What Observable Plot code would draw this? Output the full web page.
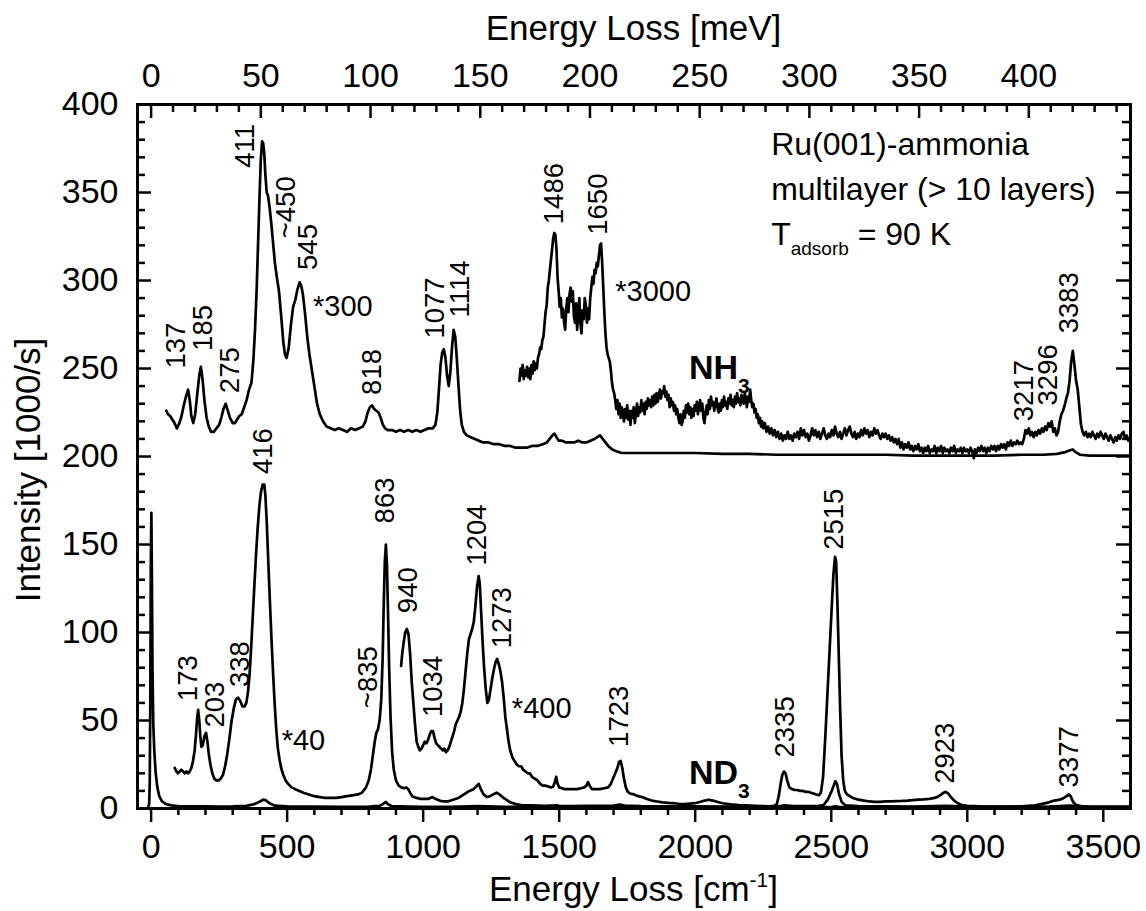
<!DOCTYPE html>
<html><head><meta charset="utf-8">
<script src="https://cdn.jsdelivr.net/npm/d3@7"></script>
<script src="https://cdn.jsdelivr.net/npm/@observablehq/plot@0.6"></script>
<style>body{margin:0;background:#fff} svg{display:block}</style>
</head><body><div id="chart"></div>
<script>
// ---------------- DATA (cm^-1, intensity in 1000/s) ----------------
const nh3x300 = [[56,226],[62,224],[70,223],[78,221],[86,219],[95,216],[104,219],[112,223],[120,229],[128,234],[136,238],[142,232],[148,223],[155,219],[162,224],[170,236],[177,246],[183,251],[189,244],[196,232],[204,222],[212,217],[220,214],[230,214],[240,216],[250,218],[258,222],[266,227],[274,230],[282,226],[290,222],[300,219],[308,219],[316,221],[324,223],[333,224],[342,228],[351,232],[360,238],[369,242],[376,255],[382,272],[388,295],[393,320],[398,345],[403,368],[408,379],[412,378],[416,372],[420,360],[425,350],[430,348],[436,341],[442,332],[448,322],[455,310],[462,302],[470,294],[478,280],[486,265],[492,258],[498,256],[506,262],[514,275],[522,285],[530,289],[538,295],[546,299],[552,297],[558,292],[566,281],[574,268],[582,258],[590,250],[600,240],[610,230],[620,224],[632,220],[645,217],[660,216],[675,215],[690,216],[705,215],[720,214],[735,216],[750,215],[765,216],[778,217],[788,220],[796,225],[804,228],[812,229],[820,227],[828,226],[836,225],[844,222],[852,218],[860,216],[870,215],[885,215],[900,214],[915,215],[930,214],[945,215],[960,214],[975,215],[990,214],[1005,215],[1020,216],[1035,216],[1045,218],[1052,225],[1058,238],[1064,252],[1070,259],[1076,261],[1082,256],[1088,246],[1094,240],[1100,248],[1106,262],[1112,272],[1118,268],[1124,255],[1130,240],[1136,226],[1142,218],[1150,214],[1160,212],[1175,211],[1190,210],[1205,209],[1220,208],[1240,208],[1260,207],[1280,207],[1300,206],[1320,206],[1340,205],[1360,205],[1380,205],[1400,206],[1420,206],[1440,207],[1455,208],[1465,210],[1475,212],[1483,213],[1490,211],[1498,209],[1510,209],[1525,208],[1540,208],[1555,208],[1570,209],[1585,208],[1600,208],[1615,209],[1630,210],[1640,211],[1650,212],[1660,210],[1670,208],[1680,206],[1695,204],[1710,203],[1730,202],[1760,202],[1800,202],[1850,202],[1900,202],[1950,202],[2000,202],[2100,201.5],[2200,201.5],[2300,201],[2400,201],[2500,201],[2600,201],[2700,201],[2800,200.5],[2900,200.5],[3000,200.5],[3100,200.5],[3200,201],[3280,201],[3330,201.5],[3360,202.5],[3378,203.5],[3388,204],[3398,202.5],[3415,201],[3450,200.5],[3500,200.5],[3600,200.5]];

const nh3x3000 = [[1354,243],[1358,250],[1362,246],[1366,252],[1370,244],[1374,249],[1378,246],[1382,251],[1386,245],[1390,250],[1394,244],[1398,252],[1402,247],[1406,254],[1410,249],[1414,253],[1418,250],[1422,256],[1426,258],[1430,262],[1434,261],[1438,266],[1442,268],[1446,275],[1450,282],[1454,286],[1458,296],[1462,300],[1466,306],[1470,312],[1474,318],[1478,324],[1482,327],[1486,326],[1490,318],[1494,302],[1498,294],[1502,285],[1506,290],[1510,279],[1514,284],[1518,276],[1522,272],[1526,284],[1530,290],[1534,282],[1538,292],[1542,296],[1546,288],[1550,294],[1554,280],[1558,276],[1562,287],[1566,272],[1570,281],[1574,290],[1578,276],[1582,270],[1586,283],[1590,278],[1594,290],[1598,286],[1602,276],[1606,284],[1610,278],[1614,290],[1618,296],[1622,302],[1626,298],[1630,306],[1634,304],[1638,310],[1642,308],[1646,314],[1650,320],[1654,321],[1658,310],[1662,296],[1666,282],[1670,270],[1674,262],[1678,258],[1682,256],[1686,254],[1690,249],[1694,242],[1698,238],[1702,236],[1706,232],[1710,227],[1714,232],[1718,224],[1722,230],[1726,222],[1730,228],[1734,225],[1738,220],[1742,227],[1746,222],[1750,229],[1754,221],[1758,226],[1762,218],[1766,226],[1770,222],[1774,228],[1778,219],[1782,224],[1786,230],[1790,223],[1794,228],[1798,225],[1802,232],[1806,226],[1810,230],[1814,224],[1818,231],[1822,227],[1826,233],[1830,229],[1834,232],[1838,228],[1842,234],[1846,229],[1850,235],[1854,230],[1858,236],[1862,231],[1866,234],[1870,238],[1874,233],[1878,237],[1882,236],[1886,240],[1890,234],[1894,237],[1898,232],[1902,235],[1906,228],[1910,233],[1914,229],[1918,231],[1922,226],[1926,229],[1930,224],[1934,227],[1938,222],[1942,219],[1946,224],[1950,218],[1954,220],[1958,226],[1962,222],[1966,229],[1970,225],[1974,230],[1978,224],[1982,228],[1986,222],[1990,227],[1994,223],[1998,229],[2002,226],[2006,231],[2010,224],[2014,228],[2018,232],[2022,226],[2026,230],[2030,222],[2034,219],[2038,225],[2042,229],[2046,224],[2050,232],[2054,227],[2058,234],[2062,229],[2066,231],[2070,226],[2074,230],[2078,233],[2082,228],[2086,225],[2090,230],[2094,226],[2098,232],[2102,228],[2106,234],[2110,229],[2114,231],[2118,227],[2122,233],[2126,230],[2130,235],[2134,229],[2138,232],[2142,228],[2146,234],[2150,230],[2154,236],[2158,231],[2162,233],[2166,229],[2170,235],[2174,232],[2178,230],[2182,236],[2186,233],[2190,228],[2194,234],[2198,231],[2202,238],[2206,232],[2210,228],[2214,230],[2218,225],[2222,227],[2226,222],[2230,224],[2234,219],[2238,222],[2242,217],[2246,220],[2250,216],[2256,219],[2262,214],[2268,217],[2274,213],[2280,216],[2286,212],[2292,215],[2298,211],[2304,214],[2310,210],[2316,213],[2322,209],[2328,212],[2334,210],[2340,214],[2346,210],[2352,212],[2358,209],[2364,213],[2370,211],[2376,214],[2382,210],[2388,216],[2394,212],[2400,215],[2406,211],[2412,213],[2418,209],[2424,212],[2430,216],[2436,212],[2442,215],[2448,211],[2454,214],[2460,210],[2466,213],[2472,216],[2478,212],[2484,210],[2490,213],[2496,211],[2502,215],[2508,212],[2514,217],[2520,213],[2526,211],[2532,214],[2538,210],[2544,213],[2550,216],[2556,212],[2562,215],[2568,217],[2574,213],[2580,211],[2586,214],[2592,210],[2598,213],[2604,211],[2610,215],[2616,212],[2622,216],[2628,213],[2634,215],[2640,211],[2646,214],[2652,212],[2658,216],[2664,213],[2670,215],[2676,212],[2682,210],[2688,213],[2694,211],[2700,213],[2706,210],[2712,212],[2718,209],[2724,211],[2730,208],[2736,210],[2742,207],[2748,210],[2754,205],[2760,208],[2766,204],[2772,207],[2778,205],[2784,208],[2790,204],[2796,206],[2802,203],[2808,206],[2814,204],[2820,207],[2826,203],[2832,205],[2838,202],[2844,205],[2850,203],[2856,206],[2862,202],[2868,204],[2874,203],[2880,206],[2886,202],[2892,205],[2898,203],[2904,206],[2910,202],[2916,205],[2922,203],[2928,204],[2934,202],[2940,205],[2946,203],[2952,206],[2958,202],[2964,204],[2970,203],[2976,205],[2982,202],[2988,205],[2994,203],[3000,204],[3006,202],[3012,205],[3018,203],[3024,199],[3028,204],[3034,202],[3040,205],[3046,203],[3052,206],[3058,203],[3064,205],[3070,202],[3076,205],[3082,203],[3088,206],[3094,204],[3100,206],[3106,203],[3112,206],[3118,204],[3124,207],[3130,205],[3136,207],[3142,204],[3148,208],[3154,206],[3160,209],[3166,206],[3172,208],[3178,207],[3184,209],[3190,207],[3196,208],[3202,207],[3208,210],[3214,215],[3220,213],[3226,216],[3232,212],[3238,214],[3244,211],[3250,214],[3256,212],[3262,215],[3268,213],[3274,216],[3280,214],[3286,217],[3292,215],[3298,219],[3304,217],[3310,220],[3316,214],[3322,216],[3328,212],[3334,214],[3340,220],[3346,224],[3352,226],[3358,229],[3364,233],[3370,236],[3376,243],[3382,254],[3388,260],[3394,252],[3400,243],[3406,238],[3412,228],[3418,218],[3424,214],[3430,212],[3436,214],[3442,211],[3448,213],[3454,211],[3460,214],[3466,212],[3472,210],[3478,213],[3484,211],[3490,214],[3496,212],[3502,210],[3508,213],[3514,211],[3520,209],[3526,212],[3532,210],[3538,208],[3544,211],[3550,209],[3556,212],[3562,210],[3568,213],[3574,214],[3580,210],[3586,212],[3592,209],[3600,211]];

const nd3x1 = [[-14,0],[-10,0.5],[-7,3],[-5,15],[-3,60],[-1,140],[1,168],[3,130],[5,80],[8,48],[12,32],[17,20],[23,12],[30,7],[40,4],[55,2.5],[75,1.8],[100,1.4],[150,1.2],[200,1.2],[250,1.1],[300,1.2],[350,1.5],[380,2.5],[400,4],[412,5],[420,4.8],[435,3],[455,1.6],[500,1.2],[600,1.1],[700,1],[800,1.1],[840,1.5],[855,2.8],[863,3.8],[870,2.5],[885,1.3],[950,1.1],[1000,1],[1100,1],[1204,1.3],[1300,1],[1500,0.9],[2000,0.8],[2500,0.8],[2515,1.2],[2530,0.8],[3000,0.8],[3600,0.8]];

const nd3x40 = [[87,23],[93,21],[99,20],[105,21],[111,22],[118,21],[124,20],[130,21],[136,20],[142,21],[148,23],[154,27],[160,33],[165,42],[169,51],[173,56],[177,50],[181,41],[185,35],[190,36],[196,41],[202,43],[207,38],[212,31],[218,25],[225,20],[232,17],[240,16],[248,16],[256,17],[264,19],[272,24],[280,31],[288,40],[296,50],[304,57],[312,62],[320,63],[328,61],[336,58],[344,58],[350,60],[356,66],[362,76],[368,92],[374,110],[380,128],[386,145],[392,160],[398,172],[404,180],[410,184],[416,184],[420,178],[425,163],[430,143],[436,120],[442,98],[448,78],[454,60],[460,45],[466,34],[472,28],[478,23],[486,19],[494,16],[504,14],[516,12],[530,11],[545,10],[560,9],[580,8],[600,7],[620,6.5],[640,6],[660,6],[680,6],[700,6.5],[720,7],[740,7.5],[760,8],[775,9],[790,12],[800,16],[808,22],[815,30],[822,38],[828,43],[834,45],[840,50],[846,62],[851,85],[855,115],[859,140],[863,150],[867,138],[871,110],[875,80],[880,52],[886,32],[892,22],[900,16],[910,13],[920,12],[930,11.5],[938,12],[945,11],[952,9],[960,7],[975,6],[990,5.5],[1005,5.5],[1020,5.5],[1034,6.5],[1045,5.5],[1060,4.5],[1075,4],[1090,4],[1110,5],[1130,6],[1150,8],[1170,10],[1185,11],[1195,12.5],[1204,14],[1212,11],[1222,8],[1234,6.5],[1246,7],[1258,8],[1270,9],[1280,8],[1292,6.5],[1305,5],[1320,3.5],[1340,2.5],[1360,2],[1400,1.8],[1450,1.5],[1490,1.8],[1500,1.5],[1550,1.4],[1600,1.5],[1650,1.5],[1700,1.6],[1723,2.2],[1740,1.6],[1800,1.3],[1900,1.2],[2000,1.2],[2100,1.1],[2200,1.1],[2300,1.1],[2330,1.8],[2360,1.4],[2450,1.4],[2472,2],[2487,5],[2499,9],[2509,13],[2515,15.5],[2521,14],[2529,8],[2539,3.5],[2552,1.8],[2600,1.3],[2700,1.2],[2800,1.1],[2922,1.5],[3000,1.1],[3100,1.0],[3200,1.0],[3300,1.1],[3378,1.6],[3450,1.0],[3600,1.0]];

const nd3x400 = [[919,81],[923,88],[928,94],[934,100],[940,102],[946,99],[952,88],[958,72],[964,60],[970,48],[976,38],[982,35],[988,33],[994,34],[1000,36],[1006,38],[1012,37],[1018,39],[1024,42],[1030,44],[1036,44],[1042,40],[1048,37],[1054,36],[1060,35],[1066,34],[1072,33],[1078,34],[1084,32],[1090,33],[1096,35],[1102,38],[1108,41],[1114,44],[1120,48],[1126,50],[1132,52],[1138,55],[1144,60],[1150,68],[1156,78],[1162,88],[1168,96],[1174,99],[1180,102],[1186,106],[1192,115],[1198,126],[1204,132],[1208,128],[1213,112],[1218,96],[1224,80],[1230,68],[1236,60],[1242,62],[1248,68],[1254,74],[1260,79],[1266,83],[1272,85],[1278,82],[1284,78],[1290,72],[1296,63],[1302,52],[1308,45],[1314,38],[1320,33],[1328,29],[1336,27],[1344,25],[1352,24],[1360,24],[1368,22],[1376,21],[1384,20],[1392,20],[1400,18],[1410,17],[1420,16],[1430,14],[1440,13],[1450,13],[1460,12.5],[1470,12],[1478,12.5],[1484,15],[1489,18],[1494,14],[1500,12],[1510,11.5],[1520,11],[1535,11],[1550,11],[1565,11],[1580,11.5],[1592,12],[1600,13],[1606,15],[1612,13],[1620,11],[1635,11],[1650,11],[1665,11.5],[1680,12],[1690,14],[1698,17],[1706,20],[1714,23],[1720,26.5],[1726,27],[1732,23],[1738,17],[1745,12],[1752,9.5],[1760,8.5],[1775,8],[1790,7],[1805,6.5],[1820,5.5],[1840,4.5],[1860,4],[1880,3.5],[1900,3.2],[1920,3],[1940,2.7],[1960,2.5],[1980,2.8],[2000,3],[2020,3.8],[2035,4.5],[2050,5],[2065,4.5],[2080,3.8],[2100,3],[2130,2.4],[2160,2],[2190,1.8],[2220,1.5],[2250,1.3],[2270,1.2],[2290,1.5],[2300,2.5],[2307,7],[2314,14],[2320,19],[2326,21],[2332,20],[2338,16],[2346,12],[2356,11],[2365,10.5],[2375,10.5],[2385,10],[2395,10],[2405,9.5],[2415,9.5],[2425,9],[2435,8.5],[2445,8],[2455,7.5],[2462,9],[2470,18],[2478,40],[2486,65],[2494,90],[2502,115],[2508,133],[2514,143],[2518,140],[2523,115],[2528,85],[2533,55],[2538,30],[2544,16],[2550,10],[2558,8],[2568,7],[2580,6],[2600,5],[2620,4.5],[2640,4],[2660,3.8],[2680,3.8],[2700,4],[2720,4],[2740,4.2],[2760,4.3],[2780,4.5],[2800,4.8],[2820,5],[2840,5.2],[2860,5.5],[2880,6],[2895,7],[2905,8],[2913,9],[2921,9.5],[2930,8.5],[2940,6.5],[2952,4.5],[2965,3],[2980,2],[3000,1.5],[3050,1.2],[3100,1.1],[3150,1.1],[3200,1.2],[3250,1.8],[3280,2.8],[3300,3.5],[3320,4.5],[3340,5],[3355,6],[3365,7],[3373,8],[3380,7],[3390,3.5],[3400,2],[3420,1.2],[3450,0.9],[3500,0.9],[3550,0.9],[3600,1]];

// peak labels (rotated): text, x-position (cm^-1), y where the text starts
const peakText = ["137","185","275","411","~450","545","818","1077","1114","1486","1650","3217","3296","3383","416","173","203","338","~835","863","940","1034","1204","1273","1723","2335","2515","2923","3377"];
const peakX = [93,191,290,345,498,577,811,1044,1136,1480,1645,3208,3299,3376,412,136,234,326,799,860,946,1038,1198,1290,1719,2329,2511,2918,3374];
const peakY = [250,260,236,364,324,306,235,267,279,332,326,220,229,270,190,61,46,69,57,162,111,52,138,91,35,29,147,14,12];

// scaling-factor labels
const factorText = ["*300","*3000","*40","*400"];
const factorX = [595,1706,480,1326];
const factorY = [280,288.6,33,51.7];

// species labels
const speciesMain = ["NH","ND"];
const speciesSub = ["3","3"];
const speciesX = [1979,1979];
const speciesY = [244,13.6];

// annotation
const noteX = 2281;
const noteY = [371,345.5,320];

// axis ticks
const xMajor = d3.range(0, 3501, 500);
const xMinor = d3.range(100, 3600, 100).filter(v => v % 500 !== 0);
const meVMajor = d3.range(0, 401, 50);
const meVMinor = d3.range(10, 445, 10).filter(v => v % 50 !== 0);
const CM_PER_MEV = 8.06554;
const yMajor = d3.range(0, 401, 50);
const yMinor = d3.range(10, 400, 10).filter(v => v % 50 !== 0);

// ---------------- LAYOUT ----------------
const W = 1146, H = 911, mL = 137, mR = 16, mT = 104, mB = 103;
const iW = W - mL - mR, iH = H - mT - mB;
const FONT = "'Liberation Sans', Arial, Helvetica, sans-serif";
const TICKF = 34, TITLEF = 35;

const curve = data => Plot.line(data, {x: d => d[0], y: d => d[1], stroke: "#000", strokeWidth: 2.7, strokeLinejoin: "round", strokeLinecap: "round"});

function scaleFn(s) { return typeof s === "function" ? s : v => s.apply(v); }

// rich text (sub/superscripts) positioned through the plot's scales
function richText(items) {
  return (index, scales) => {
    const sx = scaleFn(scales.x), sy = scaleFn(scales.y);
    const g = d3.create("svg:g").attr("font-family", FONT).attr("fill", "#000").attr("text-anchor", "start");
    for (const it of items) {
      const t = g.append("text").attr("x", sx(it.x)).attr("y", sy(it.y))
        .attr("text-anchor", "start")
        .attr("font-size", it.size).attr("font-weight", it.weight || "normal")
        .style("white-space", "pre");
      for (const p of it.parts) {
        const s = t.append("tspan").text(p.text);
        if (p.dy) s.attr("dy", p.dy);
        if (p.size) s.attr("font-size", p.size);
      }
    }
    return g.node();
  };
}

const richItems = [
  {x: noteX, y: noteY[0], size: 32, parts: [{text: "Ru(001)-ammonia"}]},
  {x: noteX, y: noteY[1], size: 32, parts: [{text: "multilayer (> 10 layers)"}]},
  {x: noteX, y: noteY[2], size: 32, parts: [{text: "T"}, {text: "adsorb", dy: 10, size: 19}, {text: " = 90 K", dy: -10}]},
  ...speciesMain.map((t, i) => ({x: speciesX[i], y: speciesY[i], size: 34, weight: "bold", parts: [{text: t}, {text: speciesSub[i], dy: 14, size: 21}]}))
];

const titles = () => {
  const g = d3.create("svg:g").attr("font-family", FONT).attr("font-size", TITLEF).attr("fill", "#000");
  g.append("text").attr("x", mL + iW / 2).attr("y", 40).attr("text-anchor", "middle").text("Energy Loss [meV]");
  const b = g.append("text").attr("x", mL + iW / 2).attr("y", 901).attr("text-anchor", "middle");
  b.append("tspan").text("Energy Loss [cm");
  b.append("tspan").attr("dy", -14).attr("font-size", 21).text("-1");
  b.append("tspan").attr("dy", 14).text("]");
  g.append("text").attr("transform", "translate(40,470) rotate(-90)").attr("text-anchor", "middle").text("Intensity [1000/s]");
  return g.node();
};

const TW = 2.5;
const chart = Plot.plot({
  width: W, height: H,
  marginLeft: mL, marginRight: mR, marginTop: mT, marginBottom: mB,
  style: {fontFamily: FONT, background: "#fff", color: "#000"},
  x: {domain: [-50, 3600], axis: null},
  y: {domain: [0, 400], axis: null},
  marks: [
    // curves
    curve(nd3x1),
    curve(nd3x40),
    curve(nd3x400),
    curve(nh3x300),
    curve(nh3x3000),
    // ticks bottom (outward)
    Plot.tickX(xMajor, {x: d => d, insetTop: iH, insetBottom: -14, stroke: "#000", strokeWidth: TW}),
    Plot.tickX(xMinor, {x: d => d, insetTop: iH, insetBottom: -7, stroke: "#000", strokeWidth: TW}),
    // ticks top (meV, inward)
    Plot.tickX(meVMajor, {x: d => d * CM_PER_MEV, insetBottom: iH - 14, stroke: "#000", strokeWidth: TW}),
    Plot.tickX(meVMinor, {x: d => d * CM_PER_MEV, insetBottom: iH - 8, stroke: "#000", strokeWidth: TW}),
    // ticks left and right (inward)
    Plot.tickY(yMajor, {y: d => d, insetRight: iW - 14, stroke: "#000", strokeWidth: TW}),
    Plot.tickY(yMinor, {y: d => d, insetRight: iW - 8, stroke: "#000", strokeWidth: TW}),
    Plot.tickY(yMajor, {y: d => d, insetLeft: iW - 14, stroke: "#000", strokeWidth: TW}),
    Plot.tickY(yMinor, {y: d => d, insetLeft: iW - 8, stroke: "#000", strokeWidth: TW}),
    Plot.frame({stroke: "#000", strokeWidth: 3}),
    // tick labels
    Plot.text(xMajor, {x: d => d, frameAnchor: "bottom", dy: 39, text: d => String(d), fontSize: TICKF, lineAnchor: "middle", fill: "#000"}),
    Plot.text(meVMajor, {x: d => d * CM_PER_MEV, frameAnchor: "top", dy: -18, text: d => String(d), fontSize: TICKF, lineAnchor: "bottom", fill: "#000"}),
    Plot.text(yMajor, {y: d => d, frameAnchor: "left", dx: -19, text: d => String(d), fontSize: TICKF, textAnchor: "end", lineAnchor: "middle", fill: "#000"}),
    // peak labels
    Plot.text(peakText, {x: (d, i) => peakX[i], y: (d, i) => peakY[i], text: d => d, rotate: -90, textAnchor: "start", lineAnchor: "middle", fontSize: 27.5, fill: "#000"}),
    // factor labels
    Plot.text(factorText, {x: (d, i) => factorX[i], y: (d, i) => factorY[i], text: d => d, textAnchor: "start", lineAnchor: "bottom", fontSize: 29, fill: "#000"}),
    richText(richItems),
    titles
  ]
});
document.getElementById("chart").append(chart);
</script>
</body></html>
